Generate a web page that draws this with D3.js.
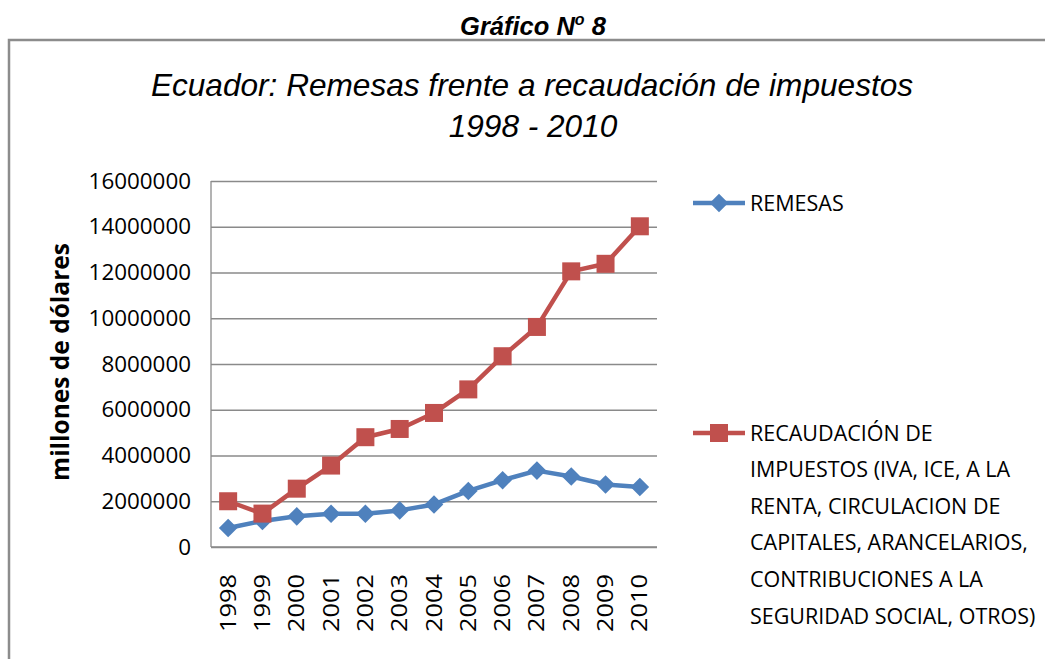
<!DOCTYPE html>
<html>
<head>
<meta charset="utf-8">
<script src="https://cdn.jsdelivr.net/npm/d3@7"></script>
<style>
  body { margin: 0; background: #fff; }
  svg { display: block; }
</style>
</head>
<body>
<div id="chart"></div>
<script>
// data
var years = ["1998","1999","2000","2001","2002","2003","2004","2005","2006","2007","2008","2009","2010"];
var remesas = [830000, 1140000, 1340000, 1450000, 1450000, 1600000, 1860000, 2450000, 2920000, 3340000, 3080000, 2730000, 2620000];
var recaudacion = [2000000, 1460000, 2550000, 3560000, 4800000, 5160000, 5860000, 6890000, 8340000, 9620000, 12050000, 12380000, 14020000];
var yTicks = [0, 2000000, 4000000, 6000000, 8000000, 10000000, 12000000, 14000000, 16000000];
var legendRecaud = ["RECAUDACIÓN DE", "IMPUESTOS (IVA, ICE, A LA", "RENTA, CIRCULACION DE",
  "CAPITALES, ARANCELARIOS,", "CONTRIBUCIONES A LA", "SEGURIDAD SOCIAL, OTROS)"];

var width = 1045, height = 659;
var plot = {left: 211, right: 657, top: 181, bottom: 547};
var blue = "#4f81bd", red = "#c0504d", gridCol = "#8a8a8a";
var tickFont = "'Open Sans', 'Liberation Sans', sans-serif";

var svg = d3.select("#chart").append("svg")
  .attr("width", width)
  .attr("height", height);

// header above the frame
var head = svg.append("text")
  .attr("x", 533)
  .attr("y", 35)
  .attr("text-anchor", "middle")
  .style("font-family", "'Liberation Sans', Arial, sans-serif")
  .style("font-weight", "bold")
  .style("font-style", "italic")
  .style("font-size", "25.5px");
head.append("tspan").text("Gráfico N");
head.append("tspan").attr("dy", -10).style("font-size", "16px").text("o");
head.append("tspan").attr("dy", 10).text(" 8");

// chart frame (runs off the page right and bottom)
svg.append("path")
  .attr("d", "M9," + (height + 5) + "V40H" + (width + 5))
  .attr("fill", "none")
  .attr("stroke", "#8c8c8c")
  .attr("stroke-width", 2.5);

// title
var title = svg.append("text")
  .attr("text-anchor", "middle")
  .style("font-family", "'Liberation Sans', Arial, sans-serif")
  .style("font-style", "italic")
  .style("font-size", "31.6px")
  .attr("fill", "#000");
title.append("tspan").attr("x", 532).attr("y", 96).text("Ecuador: Remesas frente a recaudación de impuestos");
title.append("tspan").attr("x", 533).attr("y", 137).text("1998 - 2010");

var x = d3.scaleBand()
  .domain(years)
  .range([plot.left, plot.right]);

var y = d3.scaleLinear()
  .domain([0, 16000000])
  .range([plot.bottom, plot.top]);

// gridlines + y labels
var yAxis = svg.append("g")
  .attr("transform", "translate(" + plot.left + ",0)")
  .call(d3.axisLeft(y).tickValues(yTicks).tickSize(-(plot.right - plot.left)).tickPadding(20).tickFormat(d3.format("d")));
yAxis.select(".domain").remove();
yAxis.selectAll(".tick line").attr("stroke", gridCol).attr("stroke-width", 1.3);
yAxis.selectAll(".tick text")
  .style("font-family", tickFont)
  .style("font-size", "22.4px")
  .attr("fill", "#000");

// axis lines
svg.append("line")
  .attr("x1", plot.left).attr("x2", plot.left)
  .attr("y1", plot.top).attr("y2", plot.bottom)
  .attr("stroke", gridCol).attr("stroke-width", 1.3);
svg.append("line")
  .attr("x1", plot.left).attr("x2", plot.right)
  .attr("y1", plot.bottom).attr("y2", plot.bottom)
  .attr("stroke", gridCol).attr("stroke-width", 1.3);

// x labels, rotated
var xAxis = svg.append("g")
  .attr("transform", "translate(0," + plot.bottom + ")")
  .call(d3.axisBottom(x).tickSize(0).tickPadding(0));
xAxis.select(".domain").remove();
xAxis.selectAll(".tick text")
  .attr("transform", "rotate(-90)")
  .attr("x", -27)
  .attr("y", 0)
  .attr("dy", "0.35em")
  .attr("text-anchor", "end")
  .attr("textLength", 58)
  .attr("lengthAdjust", "spacingAndGlyphs")
  .style("font-family", tickFont)
  .style("font-size", "21.5px")
  .attr("fill", "#000");

// y axis title
svg.append("text")
  .attr("transform", "translate(60,362) rotate(-90)")
  .attr("text-anchor", "middle")
  .attr("dy", "0.35em")
  .style("font-family", tickFont)
  .style("font-weight", "bold")
  .style("font-size", "24.5px")
  .text("millones de dólares");

var line = d3.line()
  .x(function(d, i) { return x(years[i]) + x.bandwidth() / 2; })
  .y(function(d) { return y(d); });

var diamond = d3.symbol().type(d3.symbolDiamond2).size(220);

function drawSeries(values, color, marker) {
  svg.append("path")
    .datum(values)
    .attr("d", line)
    .attr("fill", "none")
    .attr("stroke", color)
    .attr("stroke-width", 4.5)
    .attr("stroke-linejoin", "round");
  var g = svg.append("g");
  values.forEach(function(v, i) {
    var cx = x(years[i]) + x.bandwidth() / 2, cy = y(v);
    if (marker == "square") {
      g.append("rect")
        .attr("x", cx - 9).attr("y", cy - 9)
        .attr("width", 18).attr("height", 18)
        .attr("fill", color);
    } else {
      g.append("path")
        .attr("d", diamond)
        .attr("transform", "translate(" + cx + "," + cy + ")")
        .attr("fill", color);
    }
  });
}

drawSeries(remesas, blue, "diamond");
drawSeries(recaudacion, red, "square");

// legend
var legendFont = tickFont;
var lg1 = svg.append("g").attr("transform", "translate(693,203)");
lg1.append("line").attr("x1", 0).attr("x2", 52).attr("stroke", blue).attr("stroke-width", 4.5);
lg1.append("path").attr("d", diamond).attr("transform", "translate(26,0)").attr("fill", blue);
lg1.append("text")
  .attr("x", 57).attr("dy", "0.35em")
  .style("font-family", legendFont).style("font-size", "21.5px")
  .text("REMESAS");

var lg2 = svg.append("g").attr("transform", "translate(693,433)");
lg2.append("line").attr("x1", 0).attr("x2", 52).attr("stroke", red).attr("stroke-width", 4.5);
lg2.append("rect").attr("x", 17).attr("y", -9).attr("width", 18).attr("height", 18).attr("fill", red);
lg2.selectAll("text.lbl")
  .data(legendRecaud)
  .enter().append("text")
  .attr("class", "lbl")
  .attr("x", 57)
  .attr("y", function(d, i) { return i * 36.6; })
  .attr("dy", "0.35em")
  .style("font-family", legendFont)
  .style("font-size", "21.5px")
  .text(function(d) { return d; });
</script>
</body>
</html>
